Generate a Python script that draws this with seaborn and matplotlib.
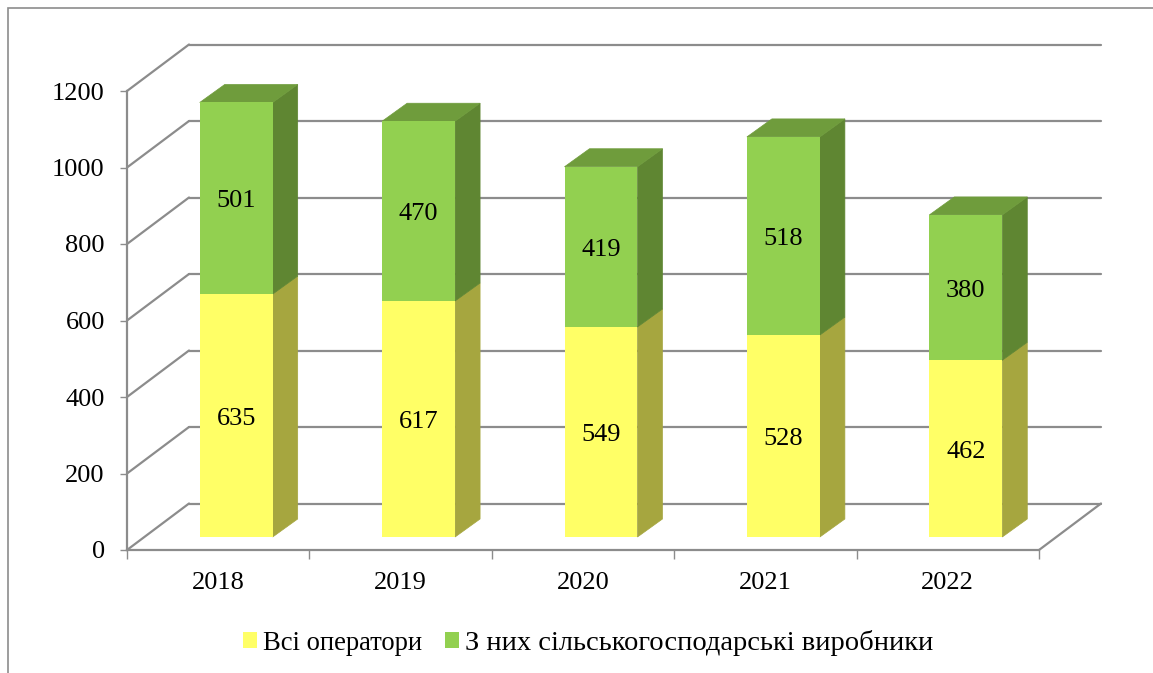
import numpy as np
import pandas as pd
import seaborn as sns
import matplotlib.pyplot as plt
from matplotlib.patches import Polygon, Patch, Rectangle
from matplotlib.transforms import Affine2D

years = ["2018", "2019", "2020", "2021", "2022"]
operators = [635, 617, 549, 528, 462]
producers = [501, 470, 419, 518, 380]
y_ticks = [0, 200, 400, 600, 800, 1000, 1200]
legend_labels = ["Всі оператори", "З них сільськогосподарські виробники"]

YELLOW, YELLOW_SIDE = "#FFFF66", "#A6A63F"
GREEN, GREEN_SIDE, GREEN_TOP = "#92D050", "#5F8632", "#6F9C3C"
GRID = "#8C8C8C"

W, H = 1153, 673
sns.set_style("white")
plt.rcParams["font.family"] = ["Liberation Serif", "DejaVu Serif"]

df = pd.DataFrame({"year": years, "operators": operators, "producers": producers})
df["total"] = df["operators"] + df["producers"]

fig = plt.figure(figsize=(W / 100, H / 100), dpi=100)
# front plane of the 3D box, pixels measured on the reference
ax = fig.add_axes([127 / W, 1 - 550 / H, (1039 - 127) / W, (550 - 91) / H])

# total first, the lower series drawn over it gives the stack
sns.barplot(data=df, x="year", y="total", color=GREEN, width=0.4, saturation=1, ax=ax, zorder=3, linewidth=0)
n_top = len(ax.patches)
sns.barplot(data=df, x="year", y="operators", color=YELLOW, width=0.4, saturation=1, ax=ax, zorder=3, linewidth=0)
ax.set_xlim(-0.5, 4.5)
ax.set_ylim(0, 1200)

bar_tr = ax.transData + Affine2D().translate(18, 13)
back_tr = ax.transData + Affine2D().translate(62, 46.5)
label_tr = ax.transData + Affine2D().translate(18, 10)


def face(verts, color, z):
    ax.add_patch(Polygon(verts, closed=True, transform=None, facecolor=color,
                         edgecolor=color, lw=0.5, zorder=z, clip_on=False))


# depth faces of the bars, built from the bars themselves
fig.canvas.draw()
for i, (top, low) in enumerate(zip(ax.patches[:n_top], ax.patches[n_top:])):
    top.set_transform(bar_tr)
    low.set_transform(bar_tr)
    top.set_clip_on(False)
    low.set_clip_on(False)
    x1 = top.get_x() + top.get_width()
    x0 = top.get_x()
    (xa, ya), (xb, yb), (xc, yc), (xd, yd) = bar_tr.transform(
        [(x0, df["total"][i]), (x1, df["total"][i]), (x1, df["operators"][i]), (x1, 0)])
    d = (25, 18)
    face([(xc, yd), (xc + d[0], yd + d[1]), (xc + d[0], yc + d[1]), (xc, yc)], YELLOW_SIDE, 2)
    face([(xc, yc), (xc + d[0], yc + d[1]), (xb + d[0], yb + d[1]), (xb, yb)], GREEN_SIDE, 2)
    face([(xa, ya), (xb, yb), (xb + d[0], yb + d[1]), (xa + d[0], ya + d[1])], GREEN_TOP, 2)
    cx = x0 + top.get_width() / 2
    ax.text(cx, operators[i] / 2, str(operators[i]), transform=label_tr, ha="center", va="center",
            fontsize=19, color="black", zorder=5)
    ax.text(cx, operators[i] + producers[i] / 2, str(producers[i]), transform=label_tr, ha="center",
            va="center", fontsize=19, color="black", zorder=5)

# back wall grid and the slanted lines joining it to the axis
for v in y_ticks:
    ax.plot([-0.5, 4.5], [v, v], transform=back_tr, color=GRID, lw=1.6, zorder=1, clip_on=False)
    xa, ya = ax.transData.transform((-0.5, v))
    ax.plot([xa, xa + 62], [ya, ya + 46.5], transform=None, color=GRID, lw=1.6, zorder=1, clip_on=False)
xa, ya = ax.transData.transform((4.5, 0))
ax.plot([xa, xa + 62], [ya, ya + 46.5], transform=None, color=GRID, lw=1.6, zorder=1, clip_on=False)

sns.despine(ax=ax)
for s in ["left", "bottom"]:
    ax.spines[s].set_color(GRID)
    ax.spines[s].set_linewidth(1.6)
ax.set_xlabel("")
ax.set_ylabel("")
ax.set_yticks(y_ticks)
ax.set_xticks(range(5))
ax.set_xticks(np.arange(-0.5, 5), minor=True)
ax.tick_params(axis="y", which="major", left=True, length=5, width=1, color=GRID,
               labelsize=19, pad=11, labelcolor="black")
ax.tick_params(axis="x", which="major", length=0, labelsize=19, pad=16, labelcolor="black")
ax.tick_params(axis="x", which="minor", bottom=True, length=6.5, width=1, color=GRID)

handles = [Patch(facecolor=YELLOW, label=legend_labels[0], linewidth=0),
           Patch(facecolor=GREEN, label=legend_labels[1], linewidth=0)]
leg = fig.legend(handles=handles, loc="center", bbox_to_anchor=(588 / W, 1 - 643 / H), ncol=2,
                 frameon=False, fontsize=19.7, handlelength=0.52, handleheight=0.52,
                 handletextpad=0.2, columnspacing=0.85, borderpad=0, labelcolor="black")
leg.get_texts()[0].set_fontsize(19.2)
leg.get_texts()[1].set_fontsize(20.5)

# chart frame
fig.add_artist(Rectangle((7.5 / W, -0.01), 1.2, 1 - 7.5 / H + 0.01, transform=fig.transFigure,
                         facecolor="none", edgecolor=GRID, lw=1.2))

fig.savefig("out.png", dpi=100)
